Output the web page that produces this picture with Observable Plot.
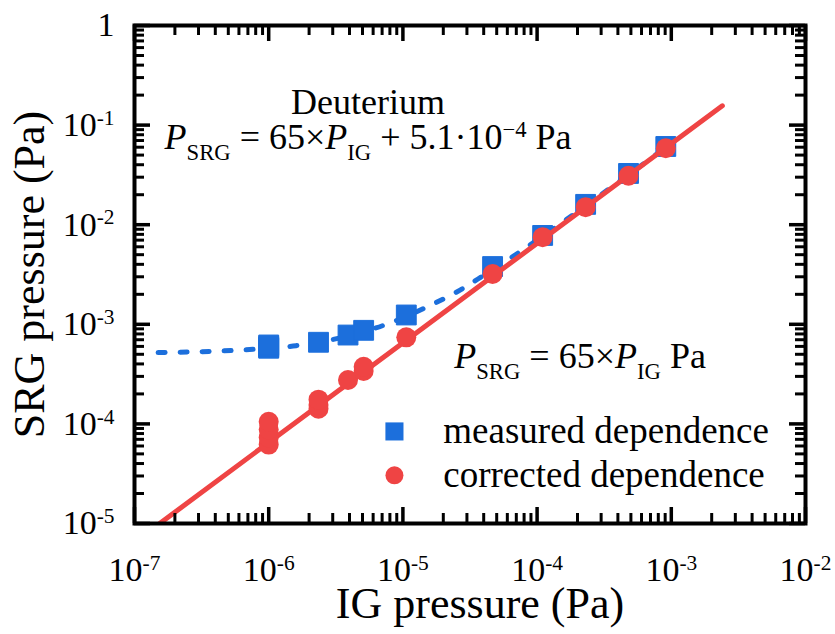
<!DOCTYPE html>
<html>
<head>
<meta charset="utf-8">
<script src="https://cdn.jsdelivr.net/npm/d3@7"></script>
<script src="https://cdn.jsdelivr.net/npm/@observablehq/plot@0.6"></script>
<style>
  html, body { margin: 0; padding: 0; background: #ffffff; }
  #chart { width: 835px; height: 634px; }
  #spacer { position: absolute; left: 0; top: 0; width: 1px; height: 1px; }
</style>
</head>
<body>
<div id="chart"></div>
<div id="spacer"></div>
<script>
// ---------------- data ----------------
const measuredX = [1e-6, 1e-6, 1e-6, 1e-6, 2.35e-6, 3.9e-6, 5.1e-6, 1.06e-5, 4.66e-5, 1.1e-4, 2.3e-4, 4.8e-4, 9.1e-4];
const measuredY = [5.75e-4, 5.85e-4, 6.0e-4, 6.2e-4, 6.6e-4, 7.8e-4, 8.7e-4, 1.24e-3, 3.8e-3, 7.8e-3, 1.6e-2, 3.27e-2, 6.1e-2];

const correctedX = [1e-6, 1e-6, 1e-6, 1e-6, 2.35e-6, 2.35e-6, 2.35e-6, 3.9e-6, 5.1e-6, 5.1e-6, 1.06e-5, 4.66e-5, 1.1e-4, 2.3e-4, 4.8e-4, 9.1e-4];
const correctedY = [6.2e-5, 7.3e-5, 8.8e-5, 1.05e-4, 1.42e-4, 1.55e-4, 1.75e-4, 2.76e-4, 3.4e-4, 3.75e-4, 7.4e-4, 3.2e-3, 7.5e-3, 1.5e-2, 3.1e-2, 5.86e-2];

// measured-dependence fit curve (dotted)
const measuredFitX = [1.5e-7, 3e-7, 6e-7, 1e-6, 1.6e-6, 2.5e-6, 4e-6, 6e-6, 1e-5, 1.6e-5, 2.5e-5, 4e-5, 6e-5, 1e-4, 1.6e-4, 2.5e-4, 4e-4, 6e-4, 1e-3];
const measuredFitY = [5.2e-4, 5.3e-4, 5.5e-4, 5.75e-4, 6.1e-4, 6.7e-4, 7.7e-4, 9.0e-4, 1.16e-3, 1.55e-3, 2.1e-3, 3.1e-3, 4.4e-3, 7.0e-3, 1.09e-2, 1.68e-2, 2.65e-2, 3.95e-2, 6.55e-2];

// corrected-dependence fit line (solid), end points
const correctedFitX = [1.54e-7, 2.4e-3];
const correctedFitY = [1e-5, 0.156];

const xTickValues = [1e-7, 1e-6, 1e-5, 1e-4, 1e-3, 1e-2];
const xTickLabels = ["10^{-7}", "10^{-6}", "10^{-5}", "10^{-4}", "10^{-3}", "10^{-2}"];
const yTickValues = [1e-5, 1e-4, 1e-3, 1e-2, 1e-1, 1];
const yTickLabels = ["10^{-5}", "10^{-4}", "10^{-3}", "10^{-2}", "10^{-1}", "1"];

const xTitle = "IG pressure (Pa)";
const yTitle = "SRG pressure (Pa)";
const gasLabel = "Deuterium";
const measuredEquation = "$P$_{SRG} = 65×$P$_{IG} + 5.1·10^{−4} Pa";
const correctedEquation = "$P$_{SRG} = 65×$P$_{IG} Pa";
const legendLabels = ["measured dependence", "corrected dependence"];

// ---------------- styling ----------------
const BLUE = "#1c6fdc";
const RED = "#ef4444";
const W = 835, H = 634;
const mL = 134, mR = 30, mT = 25, mB = 111;
const frameH = H - mT - mB;
const frameW = W - mL - mR;
const xDomain = [1e-7, 1e-2];
const yDomain = [1e-5, 1];

const isMajor = v => Math.abs(Math.log10(v) - Math.round(Math.log10(v))) < 1e-9;
const xMinor = d3.scaleLog().domain(xDomain).ticks().filter(v => !isMajor(v));
const yMinor = d3.scaleLog().domain(yDomain).ticks().filter(v => !isMajor(v));

const MAJ = 16, MIN = 10;
const ruleStyle = (w) => ({stroke: "#000000", strokeWidth: w, strokeOpacity: 1});

const plot = Plot.plot({
  width: W,
  height: H,
  marginLeft: mL,
  marginRight: mR,
  marginTop: mT,
  marginBottom: mB,
  style: {fontFamily: "'Liberation Serif', 'DejaVu Serif', serif", background: "#ffffff", color: "black"},
  x: {type: "log", domain: xDomain, axis: null},
  y: {type: "log", domain: yDomain, axis: null},
  marks: [
    // measured fit (dotted blue)
    Plot.line(measuredFitX, {x: measuredFitX, y: measuredFitY, stroke: BLUE, strokeWidth: 5, strokeDasharray: "7,15", curve: "monotone-x", clip: true}),
    // measured points
    Plot.dot(measuredX, {x: measuredX, y: measuredY, symbol: "square", r: 11.2, fill: BLUE, stroke: BLUE, strokeWidth: 1, strokeLinejoin: "round"}),
    // corrected fit (solid red)
    Plot.line(correctedFitX, {x: correctedFitX, y: correctedFitY, stroke: RED, strokeWidth: 5, clip: true}),
    // corrected points
    Plot.dot(correctedX, {x: correctedX, y: correctedY, symbol: "circle", r: 10, fill: RED, stroke: null}),

    // annotations
    Plot.text([gasLabel], {x: 5.5e-6, y: 0.168, fontSize: 36, textAnchor: "middle", lineAnchor: "middle"}),
    Plot.text([measuredEquation], {x: 5.5e-6, y: 0.076, fontSize: 36, textAnchor: "middle", lineAnchor: "middle"}),
    Plot.text([correctedEquation], {x: 2.09e-4, y: 4.8e-4, fontSize: 36, textAnchor: "middle", lineAnchor: "middle"}),

    // legend
    Plot.dot([legendLabels[0]], {x: 8.65e-6, y: 8.4e-5, symbol: "square", r: 10.2, fill: BLUE}),
    Plot.dot([legendLabels[1]], {x: 8.65e-6, y: 3.05e-5, symbol: "circle", r: 9, fill: RED}),
    Plot.text([legendLabels[0]], {x: 2.0e-5, y: 8.4e-5, fontSize: 37, textAnchor: "start", lineAnchor: "middle"}),
    Plot.text([legendLabels[1]], {x: 2.0e-5, y: 3.05e-5, fontSize: 37, textAnchor: "start", lineAnchor: "middle"}),

    // tick labels
    Plot.text(xTickValues, {x: d => d, text: (d, i) => xTickLabels[i], frameAnchor: "bottom", dy: 47, fontSize: 34, textAnchor: "middle", lineAnchor: "middle"}),
    Plot.text(yTickValues, {y: d => d, text: (d, i) => yTickLabels[i], frameAnchor: "left", dx: -20, fontSize: 34, textAnchor: "end", lineAnchor: "middle"}),

    // axis titles
    Plot.text([xTitle], {frameAnchor: "bottom", dy: 80, dx: 10, fontSize: 44, textAnchor: "middle", lineAnchor: "middle"}),
    Plot.text([yTitle], {frameAnchor: "left", dx: -105, rotate: -90, fontSize: 44, textAnchor: "middle", lineAnchor: "middle"}),

    // inward ticks on all four sides (rules inset to tick length)
    Plot.ruleX(xTickValues, {x: d => d, insetTop: frameH - MAJ, ...ruleStyle(3.5)}),
    Plot.ruleX(xTickValues, {x: d => d, insetBottom: frameH - MAJ, ...ruleStyle(3.5)}),
    Plot.ruleX(xMinor, {x: d => d, insetTop: frameH - MIN, ...ruleStyle(3)}),
    Plot.ruleX(xMinor, {x: d => d, insetBottom: frameH - MIN, ...ruleStyle(3)}),
    Plot.ruleY(yTickValues, {y: d => d, insetRight: frameW - MAJ, ...ruleStyle(3.5)}),
    Plot.ruleY(yTickValues, {y: d => d, insetLeft: frameW - MAJ, ...ruleStyle(3.5)}),
    Plot.ruleY(yMinor, {y: d => d, insetRight: frameW - MIN, ...ruleStyle(3)}),
    Plot.ruleY(yMinor, {y: d => d, insetLeft: frameW - MIN, ...ruleStyle(3)}),

    Plot.frame({stroke: "black", strokeWidth: 4})
  ]
});

document.getElementById("chart").appendChild(plot);

// rich text: $..$ italic, _{..} subscript, ^{..} superscript
const SVGNS = "http://www.w3.org/2000/svg";
function richify(el) {
  const s = el.textContent;
  if (!/(\^\{|_\{|\$)/.test(s)) return;
  const base = parseFloat(el.closest("[font-size]")?.getAttribute("font-size")) || 34;
  const small = base * 0.63;
  const shift = base * 0.33;
  const parts = s.split(/(\^\{[^}]*\}|_\{[^}]*\}|\$[^$]*\$)/g).filter(p => p !== "");
  el.textContent = "";
  let off = 0;
  for (const p of parts) {
    const t = document.createElementNS(SVGNS, "tspan");
    let txt = p, target = 0, size = null, italic = false;
    if (p.startsWith("^{")) { txt = p.slice(2, -1); target = -shift; size = small; }
    else if (p.startsWith("_{")) { txt = p.slice(2, -1); target = shift; size = small; }
    else if (p.startsWith("$")) { txt = p.slice(1, -1); italic = true; }
    const dy = target - off;
    if (Math.abs(dy) > 1e-9) t.setAttribute("dy", dy.toFixed(2));
    off = target;
    if (size) t.setAttribute("font-size", size.toFixed(2));
    if (italic) t.setAttribute("font-style", "italic");
    t.textContent = txt;
    el.appendChild(t);
  }
}
plot.querySelectorAll("text").forEach(richify);
</script>
</body>
</html>
